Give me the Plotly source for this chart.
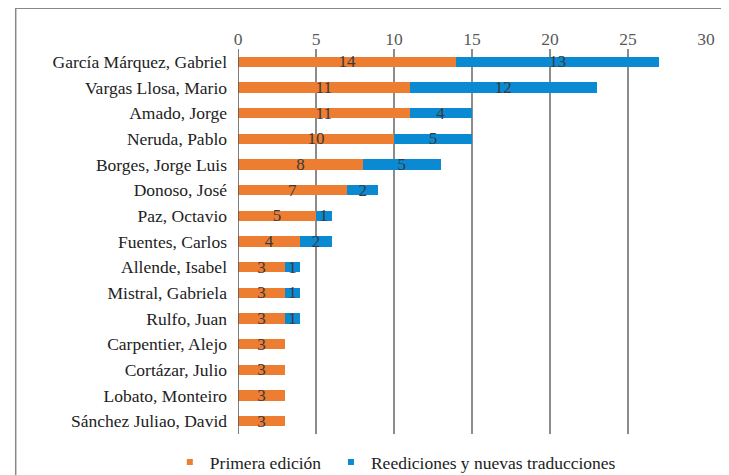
import plotly.graph_objects as go

autores = ["García Márquez, Gabriel", "Vargas Llosa, Mario", "Amado, Jorge", "Neruda, Pablo",
           "Borges, Jorge Luis", "Donoso, José", "Paz, Octavio", "Fuentes, Carlos",
           "Allende, Isabel", "Mistral, Gabriela", "Rulfo, Juan", "Carpentier, Alejo",
           "Cortázar, Julio", "Lobato, Monteiro", "Sánchez Juliao, David"]
primera = [14, 11, 11, 10, 8, 7, 5, 4, 3, 3, 3, 3, 3, 3, 3]
reediciones = [13, 12, 4, 5, 5, 2, 1, 2, 1, 1, 1, 0, 0, 0, 0]
ticks = [0, 5, 10, 15, 20, 25, 30]

ORANGE = "#ED7D31"
BLUE = "#0A8AD3"
FONT = "Liberation Serif, 'Times New Roman', Times, serif"

fig = go.Figure()
fig.add_trace(go.Bar(
    y=autores, x=primera, orientation="h", name="Primera edición",
    marker=dict(color=ORANGE, line=dict(width=0)),
    text=[str(v) for v in primera], textposition="inside", insidetextanchor="middle",
    textangle=0, constraintext="none", textfont=dict(family=FONT, size=17, color="#3a3a3a"),
    showlegend=False, cliponaxis=False))
fig.add_trace(go.Bar(
    y=autores, x=reediciones, orientation="h", name="Reediciones y nuevas traducciones",
    marker=dict(color=BLUE, line=dict(width=0)),
    text=[str(v) if v else "" for v in reediciones], textposition="inside", insidetextanchor="middle",
    textangle=0, constraintext="none", textfont=dict(family=FONT, size=17, color="#3a3a3a"),
    showlegend=False, cliponaxis=False))

# legend entries with small square markers
fig.add_trace(go.Scatter(x=[None], y=[None], mode="markers", name="Primera edición",
                         marker=dict(symbol="square", size=6, color=ORANGE), legend="legend"))
fig.add_trace(go.Scatter(x=[None], y=[None], mode="markers", name="Reediciones y nuevas traducciones",
                         marker=dict(symbol="square", size=6, color=BLUE), legend="legend2"))

leg_common = dict(orientation="h", xref="container", yref="container",
                  xanchor="left", y=0.044, yanchor="middle",
                  font=dict(size=17.5, color="#222222"), itemwidth=30,
                  bgcolor="rgba(0,0,0,0)")

fig.update_layout(
    width=729, height=475,
    margin=dict(l=230, r=31, t=41, b=49, autoexpand=False),
    barmode="stack", bargap=0.6,
    paper_bgcolor="white", plot_bgcolor="white",
    font=dict(family=FONT, size=17.5, color="#222222"),
    xaxis=dict(side="top", range=[0, 30], tickvals=ticks, showgrid=True,
               gridcolor="#8c8c8c", gridwidth=1.5, zeroline=False, automargin=False,
               showline=False, ticks="", tickfont=dict(size=17.5, color="#595959"),
               fixedrange=True),
    yaxis=dict(autorange="reversed", showgrid=False, ticks="", ticklabelstandoff=10,
               automargin=False, tickfont=dict(size=17.5, color="#222222"), showline=False),
    legend=dict(x=0.222, **leg_common),
    legend2=dict(x=0.443, **leg_common),
    shapes=[
        dict(type="line", xref="x", yref="paper", x0=0, x1=0, y0=0, y1=1,
             line=dict(color="#555555", width=1.5), layer="above"),
        dict(type="rect", xref="paper", yref="paper", x0=-0.475, x1=1.2, y0=-0.3, y1=1.106,
             line=dict(color="#888888", width=1.5), fillcolor="rgba(0,0,0,0)"),
    ],
)

fig.write_html("out.html")
